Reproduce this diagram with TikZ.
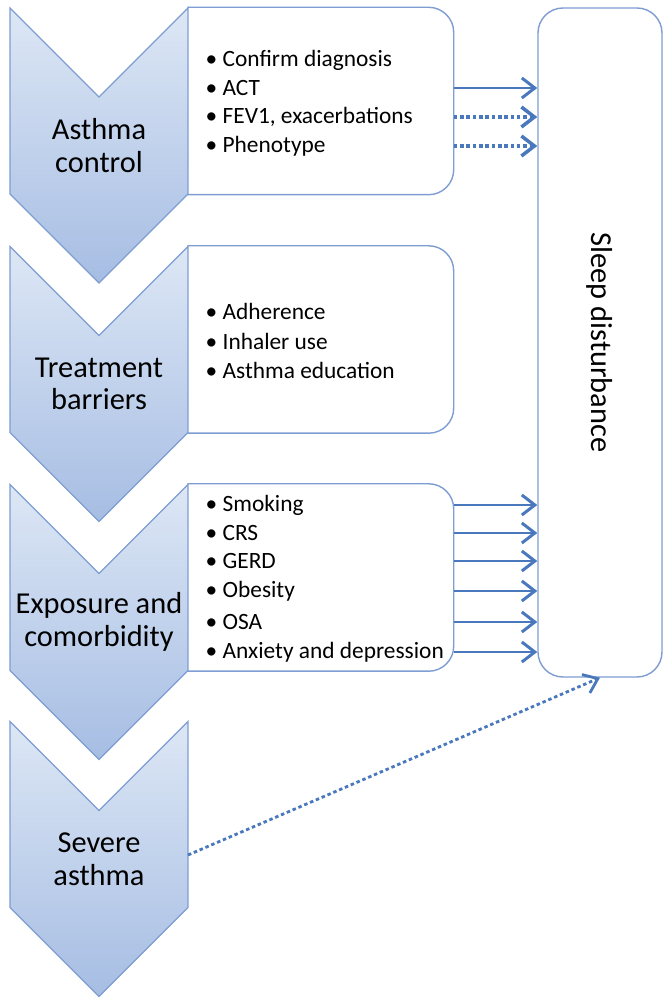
\documentclass[tikz,border=0pt]{standalone}
\usepackage{fontspec}
\setmainfont{Carlito}
\usetikzlibrary{arrows.meta}
\definecolor{chevtop}{HTML}{DDE7F5}
\definecolor{chevbot}{HTML}{A6BDE3}
\definecolor{chevline}{HTML}{7E9DD2}
\definecolor{arrowblue}{HTML}{4A78BD}

\begin{document}
\begin{tikzpicture}[thick,
    chevron/.style={draw=chevline,line width=0.8pt,top color=chevtop,bottom color=chevbot},
    chevtext/.style={align=center,font=\fontsize{17.3}{18.5}\selectfont},
    itembox/.style={minimum width=5.3cm,minimum height=3.72cm,inner sep=0pt},
    item/.style={anchor=west,inner sep=0pt,font=\fontsize{13.3}{16}\selectfont},
    boxline/.style={draw=chevline,line width=0.8pt},
    link/.style={draw=arrowblue,line width=1.7pt,-{Straight Barb[length=0.26cm,width=0.4cm]}},
    dotlink/.style={link,line width=2pt,dash pattern=on 2pt off 1.6pt}]
    \useasboundingbox (0,0) rectangle (13.26,19.96);

    % chevrons on the left
    \foreach \cy in {17.05,12.28,7.52,2.78}
        \draw[chevron] (0.2,\cy+2.75) -- (1.98,\cy+0.97) -- (3.76,\cy+2.75)
            -- (3.76,\cy-0.97) -- (1.98,\cy-2.75) -- (0.2,\cy-0.97) -- cycle;
    \node[chevtext] at (1.98,17.05) (ac) {Asthma\\control};
    \node[chevtext] at (1.98,12.28) (tb) {Treatment\\barriers};
    \node[chevtext] at (1.98,7.52) (ec) {Exposure and\\comorbidity};
    \node[chevtext] at (1.98,2.78) (sa) {Severe\\asthma};
    \coordinate (saedge) at (3.76,2.86);

    % boxes with the lists
    \node[itembox] at (6.41,17.94) (box1) {};
    \node[itembox] at (6.41,13.17) (box2) {};
    \node[itembox] at (6.41,8.41) (box3) {};
    \foreach \b in {box1,box2,box3}
        \draw[boxline] (\b.north west) -- ([xshift=-0.5cm]\b.north east)
            arc[start angle=90,end angle=0,radius=0.5cm] -- ([yshift=0.5cm]\b.south east)
            arc[start angle=0,end angle=-90,radius=0.5cm] -- (\b.south west);

    \node[item] at (4.1,18.76) (cd) {\textbullet\ Confirm diagnosis};
    \node[item] at (4.1,18.2) (act) {\textbullet\ ACT};
    \node[item] at (4.1,17.62) (fev) {\textbullet\ FEV1, exacerbations};
    \node[item] at (4.1,17.04) (pheno) {\textbullet\ Phenotype};

    \node[item] at (4.1,13.74) (adh) {\textbullet\ Adherence};
    \node[item] at (4.1,13.14) (inh) {\textbullet\ Inhaler use};
    \node[item] at (4.1,12.56) (edu) {\textbullet\ Asthma education};

    \node[item] at (4.1,9.86) (smk) {\textbullet\ Smoking};
    \node[item] at (4.1,9.3) (crs) {\textbullet\ CRS};
    \node[item] at (4.1,8.74) (gerd) {\textbullet\ GERD};
    \node[item] at (4.1,8.14) (obes) {\textbullet\ Obesity};
    \node[item] at (4.1,7.52) (osa) {\textbullet\ OSA};
    \node[item] at (4.1,6.92) (anx) {\textbullet\ Anxiety and depression};

    % outcome box
    \node[boxline,rounded corners=0.5cm,minimum width=2.48cm,minimum height=13.38cm] at (12.0,13.11) (sleep) {};
    \node[rotate=-90,font=\fontsize{17.3}{18.5}\selectfont] at (sleep.center) (sleeptext) {Sleep disturbance};

    \draw[link] (act -| box1.east) -- (act -| sleep.west);
    \draw[dotlink] (fev -| box1.east) -- (fev -| sleep.west);
    \draw[dotlink] (pheno -| box1.east) -- (pheno -| sleep.west);

    \foreach \i in {smk,crs,gerd,obes,osa,anx}
        \draw[link] (\i -| box3.east) -- (\i -| sleep.west);

    \draw[dotlink,line width=1.6pt] (saedge) -- (sleep.south);
\end{tikzpicture}
\end{document}
